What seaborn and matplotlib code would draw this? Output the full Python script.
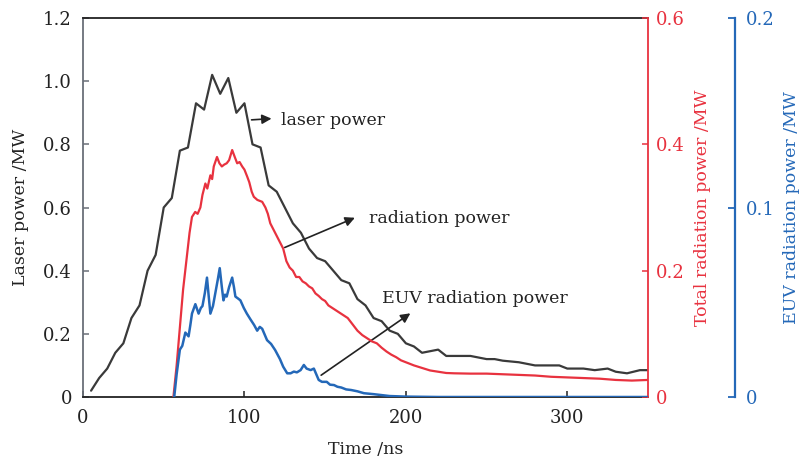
import numpy as np
import pandas as pd
import matplotlib
matplotlib.use("Agg")
import matplotlib.pyplot as plt
import seaborn as sns

# laser power (left axis, MW)
laser_t = [5, 10, 15, 20, 25, 30, 35, 40, 45, 50, 55, 60, 65, 70, 75, 80, 85, 90, 95, 100,
           105, 110, 115, 120, 125, 130, 135, 140, 145, 150, 155, 160, 165, 170, 175, 180,
           185, 190, 195, 200, 205, 210, 215, 220, 225, 230, 240, 250, 255, 260, 270, 280,
           290, 295, 300, 310, 317, 325, 330, 337, 345, 350]
laser_p = [0.02, 0.06, 0.09, 0.14, 0.17, 0.25, 0.29, 0.40, 0.45, 0.60, 0.63, 0.78, 0.79, 0.93,
           0.91, 1.02, 0.96, 1.01, 0.90, 0.93, 0.80, 0.79, 0.67, 0.65, 0.60, 0.55, 0.52, 0.47,
           0.44, 0.43, 0.40, 0.37, 0.36, 0.31, 0.29, 0.25, 0.24, 0.21, 0.20, 0.17, 0.16, 0.14,
           0.145, 0.15, 0.13, 0.13, 0.13, 0.12, 0.12, 0.115, 0.11, 0.10, 0.10, 0.10, 0.09,
           0.09, 0.085, 0.09, 0.08, 0.075, 0.085, 0.085]

# total radiation power (red axis, MW)
rad_t = [56, 58, 60, 62, 64, 66, 67.5, 69.5, 71, 72.7, 74, 75.8, 77, 78.9, 80, 81, 83, 84.5,
         86, 87.5, 89, 90.5, 92.4, 94, 95.5, 97, 98.6, 100, 101.7, 103, 104.5, 105.8, 108, 111,
         113, 114.5, 116, 118, 120, 122, 124, 126, 128, 130, 132, 134, 136, 138, 140, 142, 144,
         146, 148, 150, 152, 155, 158, 161, 164, 167, 170, 173, 176, 179, 182, 185, 188, 191,
         194, 197, 200, 205, 210, 215, 220, 225, 230, 240, 250, 260, 270, 280, 290, 300, 310,
         320, 330, 340, 350]
rad_p = [0, 0.05, 0.11, 0.17, 0.215, 0.26, 0.285, 0.293, 0.29, 0.30, 0.32, 0.338, 0.33, 0.351,
         0.345, 0.365, 0.38, 0.37, 0.365, 0.368, 0.37, 0.375, 0.391, 0.38, 0.37, 0.372, 0.365,
         0.36, 0.349, 0.34, 0.325, 0.317, 0.312, 0.309, 0.30, 0.29, 0.275, 0.265, 0.255, 0.245,
         0.235, 0.215, 0.205, 0.20, 0.19, 0.19, 0.183, 0.18, 0.175, 0.172, 0.164, 0.16, 0.155,
         0.152, 0.145, 0.14, 0.135, 0.13, 0.125, 0.115, 0.105, 0.098, 0.093, 0.088, 0.085,
         0.078, 0.072, 0.067, 0.063, 0.058, 0.055, 0.05, 0.046, 0.042, 0.04, 0.038, 0.0375,
         0.037, 0.037, 0.036, 0.035, 0.034, 0.032, 0.031, 0.03, 0.029, 0.027, 0.026, 0.027]

# EUV radiation power (blue axis, MW)
euv_t = [56.5, 58, 60, 61.5, 63.4, 65.4, 66.5, 67.5, 69.6, 71.6, 73, 74, 75.5, 76.8, 78, 78.9,
         80.5, 82, 83.5, 84.7, 86, 87, 88, 89, 90.5, 92.4, 93.5, 94.4, 96, 97.5, 99.6, 101.5,
         103.7, 106, 107.9, 109.5, 111, 112.5, 114, 116.5, 119, 122, 124, 126.5, 128.6, 130.6,
         132.5, 134.8, 136.8, 138.5, 141, 143, 144.5, 146, 148, 151, 153, 155.5, 157.6, 160,
         163, 166, 170, 174, 180, 185, 190, 200, 220, 350]
euv_p = [0, 0.012, 0.025, 0.027, 0.034, 0.032, 0.038, 0.044, 0.049, 0.044, 0.047, 0.048, 0.055,
         0.063, 0.052, 0.044, 0.048, 0.055, 0.062, 0.068, 0.058, 0.051, 0.054, 0.053, 0.058,
         0.063, 0.058, 0.053, 0.052, 0.051, 0.047, 0.044, 0.041, 0.038, 0.035, 0.037, 0.036,
         0.033, 0.030, 0.028, 0.0248, 0.020, 0.016, 0.0125, 0.0125, 0.0134, 0.013, 0.0142,
         0.0169, 0.015, 0.0142, 0.015, 0.012, 0.009, 0.008, 0.008, 0.0065, 0.0063, 0.0054,
         0.005, 0.004, 0.0037, 0.003, 0.002, 0.0015, 0.001, 0.0005, 0.0002, 0, 0]

laser = pd.DataFrame({"t": laser_t, "p": laser_p})
rad = pd.DataFrame({"t": rad_t, "p": rad_p})
euv = pd.DataFrame({"t": euv_t, "p": euv_p})

sns.set_style("ticks")
plt.rcParams["font.family"] = ["DejaVu Serif"]
plt.rcParams["font.size"] = 12

BLACK = "#3a3a3a"
RED = "#e8323f"
BLUE = "#2468b8"
GRAY = "#6a6f78"

fig = plt.figure(figsize=(8.02, 4.62), dpi=100)
ax = fig.add_axes([0.1035, 0.1407, 0.7045, 0.8203])
ax2 = ax.twinx()
ax3 = ax.twinx()

sns.lineplot(data=laser, x="t", y="p", ax=ax, color=BLACK, lw=1.6)
sns.lineplot(data=rad, x="t", y="p", ax=ax2, color=RED, lw=1.6)
sns.lineplot(data=euv, x="t", y="p", ax=ax3, color=BLUE, lw=1.8)

ax.set_xlim(0, 350)
ax.set_ylim(0, 1.2)
ax2.set_ylim(0, 0.6)
ax3.set_ylim(0, 0.2)

ax.set_xticks([0, 100, 200, 300])
ax.set_yticks([0, 0.2, 0.4, 0.6, 0.8, 1.0, 1.2])
ax.set_yticklabels(["0", "0.2", "0.4", "0.6", "0.8", "1.0", "1.2"])
ax2.set_yticks([0, 0.2, 0.4, 0.6])
ax2.set_yticklabels(["0", "0.2", "0.4", "0.6"])
ax3.set_yticks([0, 0.1, 0.2])
ax3.set_yticklabels(["0", "0.1", "0.2"])

ax.set_xlabel("Time /ns", fontsize=12.5, color="#222222", labelpad=10)
ax.set_ylabel("Laser power /MW", fontsize=12.5, color="#222222", labelpad=10)
ax2.set_ylabel("Total radiation power /MW", fontsize=12.5, color=RED, labelpad=6)
ax3.set_ylabel("EUV radiation power /MW", fontsize=12.5, color=BLUE, labelpad=6)

for a in (ax, ax2, ax3):
    for s in a.spines.values():
        s.set_visible(False)

ax.spines["left"].set_visible(True)
ax.spines["left"].set_color(GRAY)
ax.spines["bottom"].set_visible(True)
ax.spines["bottom"].set_color("#222222")
ax.spines["top"].set_visible(True)
ax.spines["top"].set_color("#222222")
for s in ("left", "bottom", "top"):
    ax.spines[s].set_linewidth(1.3)
ax.tick_params(axis="both", direction="in", length=4, width=1.1, colors=GRAY,
               labelcolor="#222222", labelsize=13, pad=8)
ax.tick_params(axis="x", colors="#222222", pad=9)

ax2.spines["right"].set_visible(True)
ax2.spines["right"].set_color(RED)
ax2.spines["right"].set_linewidth(1.3)
ax2.tick_params(axis="y", direction="in", length=4, width=1.1, colors=RED, labelsize=13, pad=6)

ax3.spines["right"].set_visible(True)
ax3.spines["right"].set_position(("axes", 1.154))
ax3.spines["right"].set_color(BLUE)
ax3.spines["right"].set_linewidth(1.6)
ax3.tick_params(axis="y", direction="in", length=5, width=1.3, colors=BLUE, labelsize=13, pad=8)

arrow = dict(arrowstyle="-|>", color="#222222", lw=1.2, mutation_scale=14)
ax.annotate("", xy=(118.5, 0.882), xytext=(102.7, 0.877), arrowprops=arrow)
ax.text(122.4, 0.877, "laser power", fontsize=12.5, va="center", color="#222222")
ax.annotate("", xy=(170, 0.571), xytext=(123.4, 0.47), arrowprops=arrow)
ax.text(177, 0.566, "radiation power", fontsize=12.5, va="center", color="#222222")
ax.annotate("", xy=(204.2, 0.27), xytext=(146.1, 0.064), arrowprops=arrow)
ax.text(185, 0.313, "EUV radiation power", fontsize=12.5, va="center", color="#222222")

fig.savefig("out.png", dpi=100)
